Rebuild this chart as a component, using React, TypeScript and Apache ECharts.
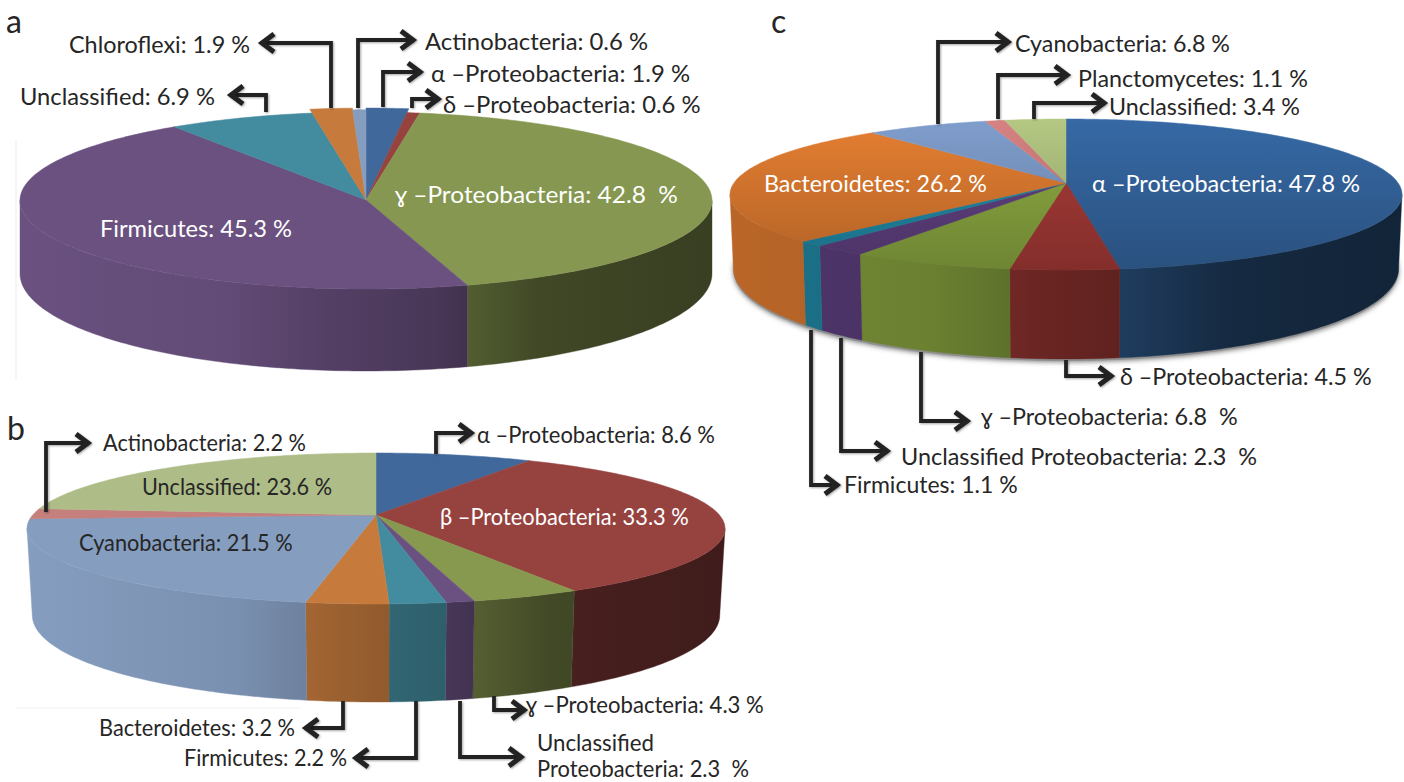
import React, { useEffect, useRef } from "react";
import * as echarts from "echarts";

const aValues = [1.9, 0.6, 42.8, 45.3, 6.9, 1.9, 0.6];
const aLabels = [
  "α –Proteobacteria: 1.9 %",
  "δ –Proteobacteria: 0.6 %",
  "ɣ –Proteobacteria: 42.8  %",
  "Firmicutes: 45.3 %",
  "Unclassified: 6.9 %",
  "Chloroflexi: 1.9 %",
  "Actinobacteria: 0.6 %",
];
const bValues = [8.6, 33.3, 4.3, 1.1, 2.2, 3.2, 21.5, 2.2, 23.6];
const bLabels = [
  "α –Proteobacteria: 8.6 %",
  "β –Proteobacteria: 33.3 %",
  "ɣ –Proteobacteria: 4.3 %",
  "Proteobacteria: 2.3  %",
  "Firmicutes: 2.2 %",
  "Bacteroidetes: 3.2 %",
  "Cyanobacteria: 21.5 %",
  "Actinobacteria: 2.2 %",
  "Unclassified: 23.6 %",
];
const bExtraLabels = ["Unclassified"];
const cValues = [47.8, 4.5, 6.8, 2.3, 1.1, 26.2, 6.8, 1.1, 3.4];
const cLabels = [
  "α –Proteobacteria: 47.8 %",
  "δ –Proteobacteria: 4.5 %",
  "ɣ –Proteobacteria: 6.8  %",
  "Unclassified Proteobacteria: 2.3  %",
  "Firmicutes: 1.1 %",
  "Bacteroidetes: 26.2 %",
  "Cyanobacteria: 6.8 %",
  "Planctomycetes: 1.1 %",
  "Unclassified: 3.4 %",
];

const aColors = ["#41689a", "#964340", "#859750", "#6a5180", "#438b9e", "#c67b3d", "#859dbf"];
const bColors = ["#41689a", "#964340", "#87984f", "#6a5181", "#438b9e", "#c67b3d", "#859dbf", "#c57f7d", "#aebd88"];
const cColors = ["#34659f", "#a43a36", "#8aa640", "#5f4080", "#2089a6", "#dd7a30", "#7b98c5", "#cf7d7d", "#adc07e"];

// Slices pulled slightly out of pie a
const aRadius = [1.045, 1, 1, 1, 1, 1.045, 1.025];

const DARK = "#262626";
const WHITE = "#ffffff";

// [text, left x, middle y, target width, colour]
const aTextLayout: any[] = [
  [0, 431, 72, 259, DARK],
  [1, 443, 103, 258, DARK],
  [2, 395, 194, 283, WHITE],
  [3, 100, 227, 192, WHITE],
  [4, 20, 95, 195, DARK],
  [5, 69, 44, 181, DARK],
  [6, 425, 40, 223, DARK],
];
const bTextLayout: any[] = [
  [0, 477, 434, 238, DARK],
  [1, 440, 516, 249, WHITE],
  [2, 526, 704, 238, DARK],
  [3, 537, 768, 212, DARK],
  [4, 184, 757, 163, DARK],
  [5, 99, 727, 196, DARK],
  [6, 79, 542, 214, DARK],
  [7, 103, 442, 203, DARK],
  [8, 142, 486, 190, DARK],
];
const bExtraLayout: any[] = [[0, 537, 742, 117, DARK]];
const cTextLayout: any[] = [
  [0, 1092, 183, 268, WHITE],
  [1, 1120, 376, 252, DARK],
  [2, 981, 416, 257, DARK],
  [3, 901, 456, 356, DARK],
  [4, 844, 484, 174, DARK],
  [5, 764, 183, 223, WHITE],
  [6, 1015, 43, 215, DARK],
  [7, 1078, 78, 230, DARK],
  [8, 1109, 106, 191, DARK],
];

// Leader arrows: route points, the last is the tip
const arrows: number[][][] = [
  [[331, 108], [331, 43], [262, 43]],
  [[358, 108], [358, 40], [413, 40]],
  [[383, 107], [383, 72], [420, 72]],
  [[412, 108], [412, 99], [438, 99]],
  [[266, 112], [266, 95], [231, 95]],
  [[46, 512], [46, 443], [88, 443]],
  [[436, 454], [436, 433], [471, 433]],
  [[494, 696], [494, 710], [524, 710]],
  [[460, 701], [460, 757], [521, 757]],
  [[416, 701], [416, 758], [356, 758]],
  [[343, 701], [343, 728], [306, 728]],
  [[938, 124], [938, 42], [1008, 42]],
  [[998, 119], [998, 75], [1067, 75]],
  [[1034, 119], [1034, 103], [1104, 103]],
  [[1066, 360], [1066, 376], [1111, 376]],
  [[921, 352], [921, 421], [967, 421]],
  [[841, 338], [841, 451], [887, 451]],
  [[811, 330], [811, 485], [837, 485]],
];

const FONT = 'Lato, "Noto Sans", sans-serif';
const FONT_SIZE = 24;

type Geo = {
  cx: number; cy: number; half: number; up: number; down: number;
  depth: number; slope: number; bottomScale: number; wallScale: number; shadeTop?: number[];
};
const geoA: Geo = { cx: 366, cy: 200, half: 346, up: 88, down: 89, depth: 82, slope: 9, bottomScale: 1, wallScale: 1 };
const geoB: Geo = { cx: 376, cy: 515, half: 349, up: 62, down: 89, depth: 98, slope: 14, bottomScale: 0.985, wallScale: 1 };
const geoC: Geo = { cx: 1066, cy: 183, half: 336, up: 64, down: 87, depth: 89, slope: 18, bottomScale: 0.99, wallScale: 0.84, shadeTop: [1.04, 0.8] };

const WALL_STOPS = [[0, 1], [0.3, 0.92], [0.45, 0.78], [0.6, 0.68], [0.75, 0.48], [1, 0.42]];

function shade(hex: string, f: number) {
  const n = parseInt(hex.slice(1), 16);
  const c = [(n >> 16) & 255, (n >> 8) & 255, n & 255].map((x) => Math.min(255, Math.round(x * f)));
  return `rgb(${c[0]},${c[1]},${c[2]})`;
}

function projector(g: Geo) {
  const k = (g.down - g.up) / (g.down + g.up);
  const ry = g.up * (1 + k);
  const rx = g.half * Math.sqrt(1 - k * k);
  const top = (t: number, r = 1) => {
    const u = r * Math.sin(t);
    const v = -r * Math.cos(t);
    const w = 1 - k * v;
    return [g.cx + (rx * u) / w, g.cy + (ry * v) / w, v];
  };
  const bottom = (t: number) => {
    const p = top(t);
    return [g.cx + (p[0] - g.cx) * g.bottomScale, p[1] + g.depth - g.slope * (1 - p[2])];
  };
  return { k, top, bottom };
}

function arcAngles(a: number, b: number) {
  const n = Math.max(2, Math.ceil((b - a) / (Math.PI / 180)));
  const out: number[] = [];
  for (let i = 0; i <= n; i++) out.push(a + ((b - a) * i) / n);
  return out;
}

function spans(values: number[]) {
  const total = values.reduce((s, v) => s + v, 0);
  let acc = 0;
  return values.map((v) => {
    const a = (acc / total) * Math.PI * 2;
    acc += v;
    return [a, (acc / total) * Math.PI * 2];
  });
}

function pieSeries(values: number[], colors: string[], g: Geo, radius?: number[]) {
  const prj = projector(g);
  const sp = spans(values);
  const theta0 = Math.acos(-prj.k);
  const wall = {
    type: "custom",
    coordinateSystem: "none",
    silent: true,
    z: 2,
    data: values,
    renderItem: (params: any) => {
      const i = params.dataIndex;
      const a = Math.max(sp[i][0], theta0);
      const b = Math.min(sp[i][1], Math.PI * 2 - theta0);
      if (b <= a) return { type: "group", children: [] };
      const ts = arcAngles(a, b);
      const pts = ts.map((t) => prj.top(t).slice(0, 2)).concat(ts.slice().reverse().map((t) => prj.bottom(t)));
      const fill = new echarts.graphic.LinearGradient(
        g.cx - g.half, 0, g.cx + g.half, 0,
        WALL_STOPS.map((s) => ({ offset: s[0], color: shade(colors[i], s[1] * g.wallScale) })),
        true
      );
      return { type: "polygon", shape: { points: pts }, style: { fill, stroke: fill, lineWidth: 0.4 } };
    },
  };
  const top = {
    type: "custom",
    coordinateSystem: "none",
    silent: true,
    z: 3,
    data: values,
    renderItem: (params: any) => {
      const i = params.dataIndex;
      const r = radius ? radius[i] : 1;
      const pts = [[g.cx, g.cy]].concat(arcAngles(sp[i][0], sp[i][1]).map((t) => prj.top(t, r).slice(0, 2)));
      const fill: any = g.shadeTop
        ? new echarts.graphic.LinearGradient(
            0, g.cy - g.up, 0, g.cy + g.down,
            [
              { offset: 0, color: shade(colors[i], g.shadeTop[0]) },
              { offset: 1, color: shade(colors[i], g.shadeTop[1]) },
            ],
            true
          )
        : colors[i];
      return { type: "polygon", shape: { points: pts }, style: { fill, stroke: fill, lineWidth: 0.5 } };
    },
  };
  return [wall, top];
}

function textElements(labels: string[], layout: any[]) {
  const ctx = document.createElement("canvas").getContext("2d") as CanvasRenderingContext2D;
  ctx.font = `${FONT_SIZE}px ${FONT}`;
  return layout.map((l) => {
    const text = labels[l[0]];
    const w = ctx.measureText(text).width;
    return {
      type: "text", x: l[1], y: l[2], scaleX: l[3] / w, z: 100, silent: true,
      style: { text, x: 0, y: 0, fill: l[4], font: `${FONT_SIZE}px ${FONT}`, textAlign: "left", textVerticalAlign: "middle", align: "left", verticalAlign: "middle" },
    };
  });
}

function plainText(text: string, x: number, y: number, size = FONT_SIZE) {
  return {
    type: "text", x, y, z: 100, silent: true,
    style: { text, x: 0, y: 0, fill: DARK, font: `${size}px ${FONT}`, textAlign: "left", textVerticalAlign: "middle", align: "left", verticalAlign: "middle" },
  };
}

function arrowElements(route: number[][]) {
  const shadow = { shadowColor: "rgba(0,0,0,0.35)", shadowBlur: 2, shadowOffsetX: 1, shadowOffsetY: 1 };
  const tip = route[route.length - 1];
  const prev = route[route.length - 2];
  const d = Math.sign(tip[0] - prev[0]);
  const head = [[tip[0] - d * 12, tip[1] - 9], [tip[0], tip[1]], [tip[0] - d * 12, tip[1] + 9]];
  return [
    { type: "polyline", z: 90, silent: true, shape: { points: route }, style: { stroke: "#222", lineWidth: 3.8, fill: null, lineJoin: "miter", ...shadow } },
    { type: "polyline", z: 90, silent: true, shape: { points: head }, style: { stroke: "#222", lineWidth: 5, fill: null, lineJoin: "miter", ...shadow } },
  ];
}

function shadowElement(g: Geo) {
  const prj = projector(g);
  const pts = arcAngles(0, Math.PI * 2).map((t) => {
    const p = prj.bottom(t);
    return [p[0], p[1] + 2];
  });
  return {
    type: "polygon", z: 1, silent: true, shape: { points: pts },
    style: { fill: "#8f8f8f", shadowColor: "rgba(90,90,90,0.8)", shadowBlur: 5, shadowOffsetY: 1 },
  };
}

export default function App() {
  const ref = useRef<HTMLDivElement>(null);
  useEffect(() => {
    document.body.style.margin = "0";
    const chart = echarts.init(ref.current as HTMLDivElement, undefined, { renderer: "svg" });
    chart.setOption({
      animation: false,
      backgroundColor: "#ffffff",
      series: [
        ...pieSeries(aValues, aColors, geoA, aRadius),
        ...pieSeries(bValues, bColors, geoB),
        ...pieSeries(cValues, cColors, geoC),
      ],
      graphic: {
        elements: [
          { type: "line", z: 1, silent: true, shape: { x1: 16, y1: 140, x2: 16, y2: 380 }, style: { stroke: "#ececec", lineWidth: 1 } },
          { type: "line", z: 1, silent: true, shape: { x1: 16, y1: 708, x2: 300, y2: 708 }, style: { stroke: "#f0f0f0", lineWidth: 1 } },
          shadowElement(geoC),
          ...arrows.flatMap(arrowElements),
          ...textElements(aLabels, aTextLayout),
          ...textElements(bLabels, bTextLayout),
          ...textElements(bExtraLabels, bExtraLayout),
          ...textElements(cLabels, cTextLayout),
          plainText("a", 6, 20, 32),
          plainText("b", 7, 427, 32),
          plainText("c", 771, 20, 32),
        ],
      },
    });
    return () => chart.dispose();
  }, []);
  return <div ref={ref} style={{ width: 1404, height: 782 }} />;
}
